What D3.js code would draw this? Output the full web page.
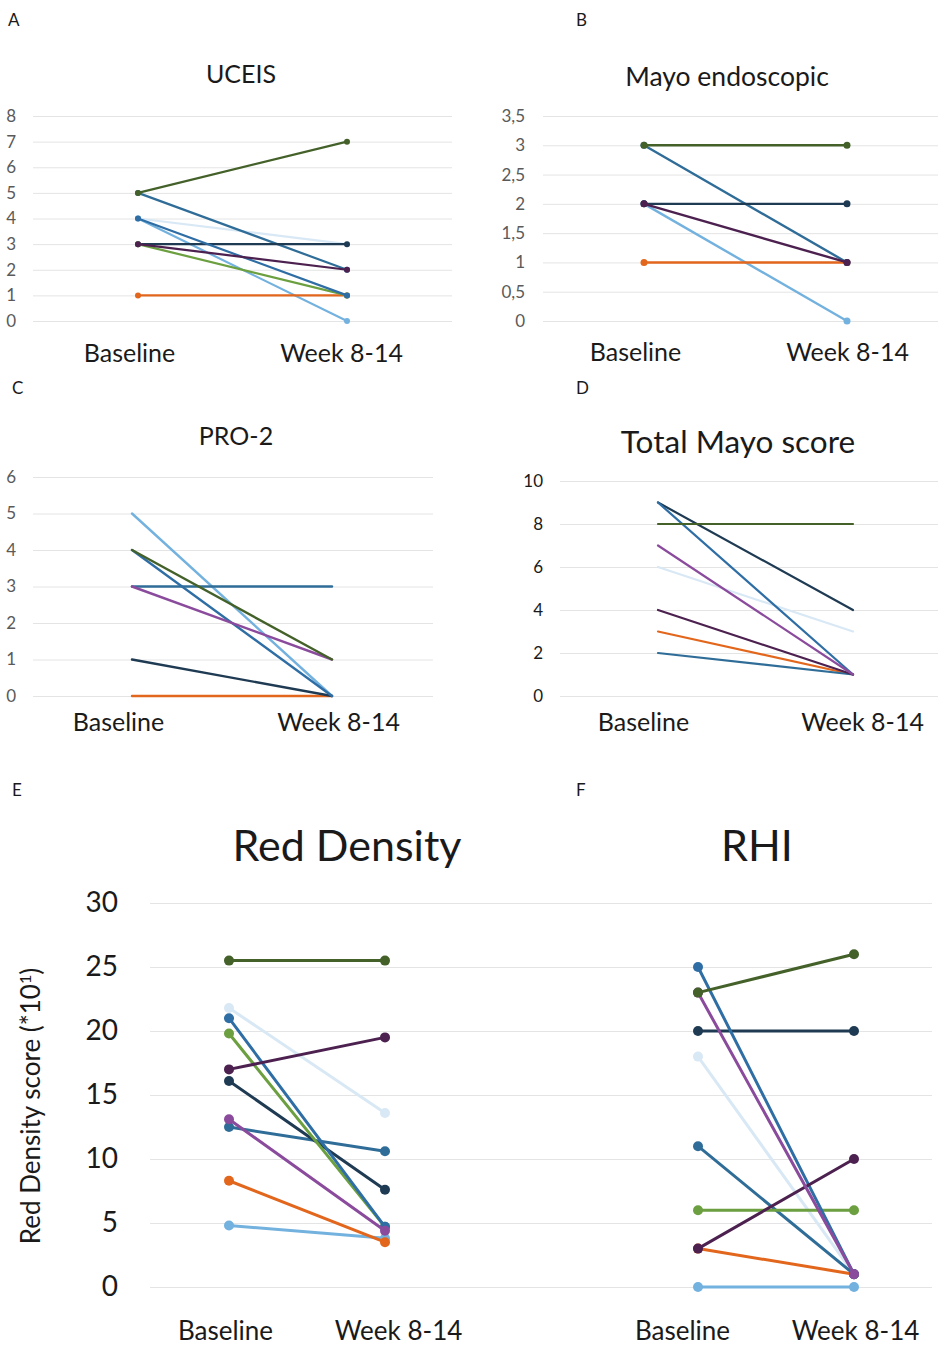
<!DOCTYPE html>
<html><head><meta charset="utf-8">
<script src="https://cdn.jsdelivr.net/npm/d3@7"></script>
<style>
body{margin:0;background:#fff}
svg{display:block}
text{font-family:Lato,"Open Sans",sans-serif}
</style>
</head><body>
<svg id="chart" width="938" height="1347"></svg>
<script>
// ---------- DATA ----------
const timepoints = ["Baseline", "Week 8-14"];
const patients = ["P1","P2","P3","P4","P5","P6","P7","P8","P9","P10"];
const patientColors = ["#44612a","#d9e8f5","#2f6ea5","#6b9f3f","#4c2150","#1f3b53","#8b4b9d","#2f6d98","#e2661c","#73b1df"];
// order in which patient series are drawn (later = on top)
const drawOrder = [1, 9, 8, 7, 5, 3, 2, 4, 6, 0];

// A: UCEIS
const uceisBaseline = [5, 4, 4, 3, 3, 3, null, 5, 1, 4];
const uceisWeek     = [7, 3, 1, 1, 2, 3, null, 2, 1, 0];
const uceisTicks = [0,1,2,3,4,5,6,7,8];

// B: Mayo endoscopic
const mayoEndoBaseline = [3, null, null, null, 2, 2, null, 3, 1, 2];
const mayoEndoWeek     = [3, null, null, null, 1, 2, null, 1, 1, 0];
const mayoEndoTicks = [0,0.5,1,1.5,2,2.5,3,3.5];

// C: PRO-2
const pro2Baseline = [4, null, 4, null, null, 1, 3, 3, 0, 5];
const pro2Week     = [1, null, 0, null, null, 0, 1, 3, 0, 0];
const pro2Ticks = [0,1,2,3,4,5,6];

// D: Total Mayo score
const totalMayoBaseline = [8, 6, 9, null, 4, 9, 7, 2, 3, null];
const totalMayoWeek     = [8, 3, 1, null, 1, 4, 1, 1, 1, null];
const totalMayoTicks = [0,2,4,6,8,10];

// E: Red Density
const redDensityBaseline = [25.5, 21.8, 21.0, 19.8, 17.0, 16.1, 13.1, 12.5, 8.3, 4.8];
const redDensityWeek     = [25.5, 13.6, 4.7, 4.7, 19.5, 7.6, 4.4, 10.6, 3.5, 3.8];
const redDensityTicks = [0,5,10,15,20,25,30];

// F: RHI
const rhiBaseline = [23, 18, 25, 6, 3, 20, 23, 11, 3, 0];
const rhiWeek     = [26, 1, 1, 6, 10, 20, 1, 1, 1, 0];

// ---------- LAYOUT ----------
const svg = d3.select("#chart");
const fmtComma = d => String(d).replace(".", ",");

const panels = [
  {letter:"A", lx:8, ly:26, title:"UCEIS", tx:241, ty:83, tsize:25,
   base:uceisBaseline, week:uceisWeek, ticks:uceisTicks, max:8,
   gx0:33, gx1:452, yTop:116, yBot:321, px:[138,347], labX:[129,341], labY:362, labSize:25,
   tickRight:16, tickSize:17, tickColor:"#5a5a5a", fmt:d=>d, lw:2.2, r:3, showTicks:true},
  {letter:"B", lx:576, ly:26, title:"Mayo endoscopic", tx:727, ty:86, tsize:26.5,
   base:mayoEndoBaseline, week:mayoEndoWeek, ticks:mayoEndoTicks, max:3.5,
   gx0:543, gx1:938, yTop:116, yBot:321, px:[644,847], labX:[635,847], labY:361, labSize:25,
   tickRight:525, tickSize:17, tickColor:"#5a5a5a", fmt:fmtComma, lw:2.4, r:3.5, showTicks:true},
  {letter:"C", lx:12, ly:394, title:"PRO-2", tx:236, ty:445, tsize:25,
   base:pro2Baseline, week:pro2Week, ticks:pro2Ticks, max:6,
   gx0:33, gx1:433, yTop:477, yBot:696, px:[132,332], labX:[118,338], labY:731, labSize:25,
   tickRight:16, tickSize:17, tickColor:"#5a5a5a", fmt:d=>d, lw:2.4, r:0, showTicks:true},
  {letter:"D", lx:576, ly:394, title:"Total Mayo score", tx:738, ty:453, tsize:31.5,
   base:totalMayoBaseline, week:totalMayoWeek, ticks:totalMayoTicks, max:10,
   gx0:560, gx1:938, yTop:481, yBot:696, px:[658,853], labX:[643,862], labY:731, labSize:25,
   tickRight:543, tickSize:17, tickColor:"#1a1a1a", fmt:d=>d, lw:2.2, r:0, showTicks:true},
  {letter:"E", lx:12, ly:796, title:"Red Density", tx:347, ty:861, tsize:43,
   base:redDensityBaseline, week:redDensityWeek, ticks:redDensityTicks, max:30,
   gx0:150, gx1:932, yTop:903, yBot:1287, px:[229,385], labX:[225,398], labY:1340, labSize:26,
   tickRight:118, tickSize:28, tickColor:"#1a1a1a", fmt:d=>d, lw:3, r:5, showTicks:true},
  {letter:"F", lx:576, ly:796, title:"RHI", tx:757, ty:861, tsize:43,
   base:rhiBaseline, week:rhiWeek, ticks:redDensityTicks, max:30,
   gx0:150, gx1:932, yTop:903, yBot:1287, px:[698,854], labX:[682,855], labY:1340, labSize:26,
   tickRight:118, tickSize:28, tickColor:"#1a1a1a", fmt:d=>d, lw:3, r:5, showTicks:false}
];

panels.forEach(p => {
  const g = svg.append("g");
  const y = d3.scaleLinear().domain([0, p.max]).range([p.yBot, p.yTop]);
  const x = d3.scalePoint().domain(timepoints).range(p.px);
  const xl = d3.scalePoint().domain(timepoints).range(p.labX);

  // gridlines + y tick labels
  if (p.showTicks) {
    const ax = g.append("g").attr("transform", `translate(${p.gx0},0)`)
      .call(d3.axisLeft(y).tickValues(p.ticks).tickFormat(p.fmt)
        .tickSize(-(p.gx1 - p.gx0)).tickPadding(p.gx0 - p.tickRight));
    ax.select(".domain").remove();
    ax.selectAll(".tick line").attr("stroke", "#e4e4e4").attr("stroke-width", 1);
    ax.selectAll(".tick text").attr("fill", p.tickColor)
      .style("font-size", p.tickSize + "px").style("font-family", "Lato, 'Open Sans', sans-serif");
  }

  // x labels
  const xa = g.append("g").attr("transform", `translate(0,${p.labY})`)
    .call(d3.axisBottom(xl).tickSize(0).tickPadding(0));
  xa.select(".domain").remove();
  xa.selectAll(".tick text").attr("dy", 0).attr("y", 0).attr("fill", "#1a1a1a")
    .style("font-size", p.labSize + "px").style("font-family", "Lato, 'Open Sans', sans-serif");

  // title and letter
  g.append("text").attr("x", p.tx).attr("y", p.ty).attr("text-anchor", "middle")
    .attr("fill", "#1a1a1a").style("font-size", p.tsize + "px").text(p.title);
  g.append("text").attr("x", p.lx).attr("y", p.ly).attr("fill", "#1a1a1a")
    .style("font-size", "17px").text(p.letter);

  // series
  const series = drawOrder.map(i => ({id: patients[i], color: patientColors[i],
    values: [p.base[i], p.week[i]]})).filter(s => s.values[0] != null && s.values[1] != null);
  const line = d3.line().x((d, j) => x(timepoints[j])).y(d => y(d));
  const sg = g.selectAll("g.series").data(series).join("g").attr("class", "series");
  sg.append("path")
    .attr("d", s => line(s.values)).attr("fill", "none")
    .attr("stroke", s => s.color).attr("stroke-width", p.lw).attr("stroke-linecap", "round");
  if (p.r > 0) {
    sg.selectAll("circle").data(s => s.values.map(v => ({v, c: s.color}))).join("circle")
      .attr("cx", (d, j) => x(timepoints[j])).attr("cy", d => y(d.v))
      .attr("r", p.r).attr("fill", d => d.c);
  }
});

// rotated y-axis title for panel E
const yt = svg.append("text").attr("transform", "translate(40,1106) rotate(-90)")
  .attr("text-anchor", "middle").attr("fill", "#1a1a1a").style("font-size", "26px");
yt.append("tspan").text("Red Density score (*10");
yt.append("tspan").attr("dy", -9).style("font-size", "16px").text("1");
yt.append("tspan").attr("dy", 9).text(")");
</script>
</body></html>
